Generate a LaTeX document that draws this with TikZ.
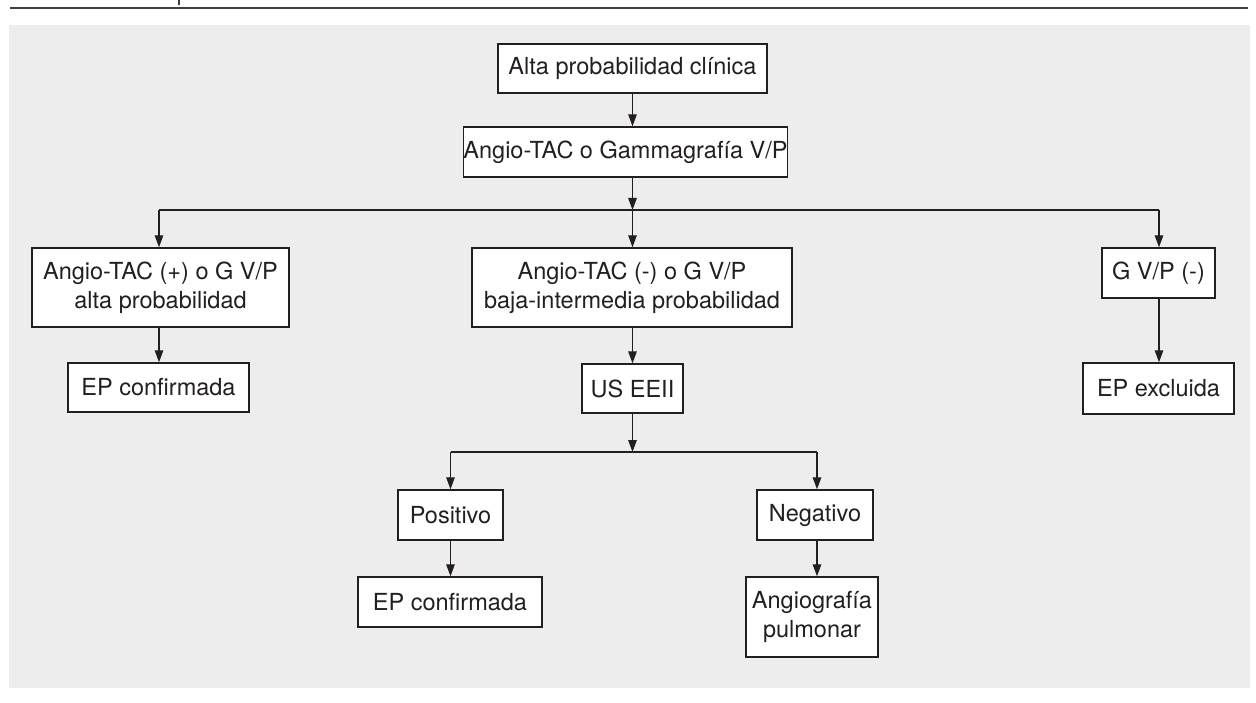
\documentclass[tikz,border=0pt]{standalone}
\usepackage{fontspec}
\setmainfont{TeX Gyre Heros}
\usetikzlibrary{arrows.meta}
\definecolor{bg}{HTML}{EDEDED}
\definecolor{ink}{HTML}{231F20}
\begin{document}
\begin{tikzpicture}[x=1pt,y=-1pt,
  box/.style={draw=ink, line width=1.4pt, fill=white, text=ink, align=center,
    inner sep=0pt, font=\fontsize{23.5}{29}\selectfont},
  arr/.style={draw=ink, line width=1.3pt, -{Triangle[width=8.5pt,length=12pt]}},
  ln/.style={draw=ink, line width=1.3pt}]
\useasboundingbox (0,0) rectangle (1256,703);
\fill[bg] (9,25) rectangle (1250,688);
\draw[line width=1.6pt, draw=black!75] (10,8) -- (1248,8);
\draw[line width=2pt, draw=black!75] (179,0) -- (179,5);

\node[box, minimum width=269pt, minimum height=49pt] (top) at (632.5,68.5) {Alta probabilidad clínica};
\node[box, minimum width=321pt, minimum height=50pt] (gam) at (625.5,152) {Angio-TAC o Gammagrafía V/P};
\node[box, minimum width=257pt, minimum height=79pt] (L1) at (160.5,287.5) {Angio-TAC (+) o G V/P\\alta probabilidad};
\node[box, minimum width=320pt, minimum height=79pt] (M1) at (632,287.5) {Angio-TAC (-) o G V/P\\baja-intermedia probabilidad};
\node[box, minimum width=113pt, minimum height=50pt] (R1) at (1158.5,273) {G V/P (-)};
\node[box, minimum width=181pt, minimum height=49pt] (L2) at (158.5,387.5) {EP confirmada};
\node[box, minimum width=101pt, minimum height=49pt] (us) at (632.5,388.5) {US EEII};
\node[box, minimum width=151pt, minimum height=51pt] (R2) at (1158.5,388.5) {EP excluida};
\node[box, minimum width=105pt, minimum height=50pt] (pos) at (450.5,515) {Positivo};
\node[box, minimum width=116pt, minimum height=50pt] (neg) at (815,515) {Negativo};
\node[box, minimum width=184pt, minimum height=50pt] (L3) at (450,602) {EP confirmada};
\node[box, minimum width=132pt, minimum height=80pt] (ang) at (812,617) {Angiografía\\pulmonar};

\coordinate (b1) at (632.5,210);
\coordinate (b2) at (632.5,452);

\draw[arr] (top.south -| 632.5,0) -- (632.5,0 |- gam.north);
\draw[arr] (632.5,0 |- gam.south) -- (b1);
\draw[ln] (159,210) -- (1159,210);
\draw[arr] (159,210) -- (159,0 |- L1.north);
\draw[arr] (b1) -- (632.5,0 |- M1.north);
\draw[arr] (1159,210) -- (1159,0 |- R1.north);
\draw[arr] (159,0 |- L1.south) -- (159,0 |- L2.north);
\draw[arr] (632.5,0 |- M1.south) -- (632.5,0 |- us.north);
\draw[arr] (1159,0 |- R1.south) -- (1159,0 |- R2.north);
\draw[arr] (632.5,0 |- us.south) -- (b2);
\draw[ln] (450.5,452) -- (817,452);
\draw[arr] (450.5,452) -- (450.5,0 |- pos.north);
\draw[arr] (817,452) -- (817,0 |- neg.north);
\draw[arr] (450.5,0 |- pos.south) -- (450.5,0 |- L3.north);
\draw[arr] (817,0 |- neg.south) -- (817,0 |- ang.north);
\end{tikzpicture}
\end{document}
